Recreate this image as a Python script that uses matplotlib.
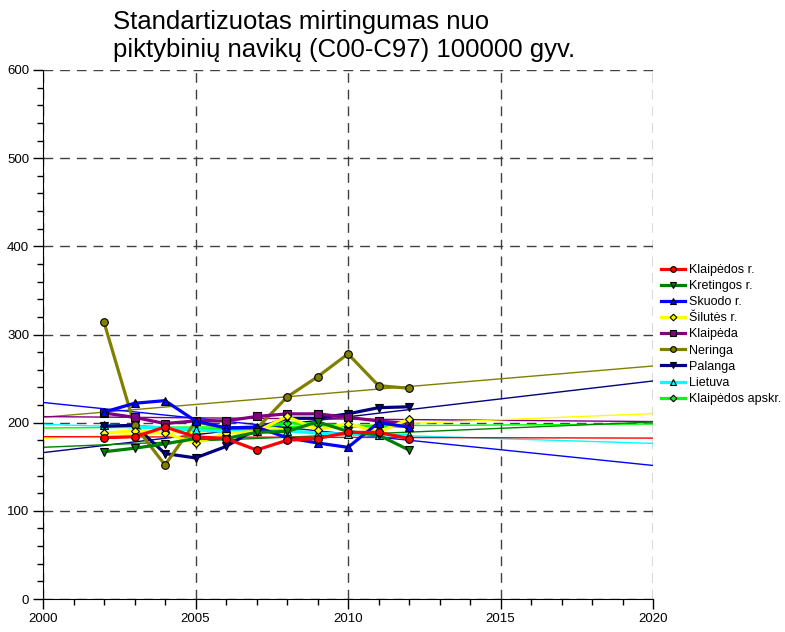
import matplotlib
matplotlib.use("Agg")
import matplotlib.pyplot as plt
from matplotlib.ticker import MultipleLocator
import numpy as np

plt.rcParams['font.family'] = ['Liberation Sans', 'DejaVu Sans']

# data
years = [2002, 2003, 2004, 2005, 2006, 2007, 2008, 2009, 2010, 2011, 2012]
names = ['Klaipėdos r.', 'Kretingos r.', 'Skuodo r.', 'Šilutės r.', 'Klaipėda',
         'Neringa', 'Palanga', 'Lietuva', 'Klaipėdos apskr.']
klaipedos_r = [183, 184, 195, 184, 182, 169, 180, 182, 189, 189, 182]
kretingos_r = [167, 171, 176, 182, 182, 189, 190, 201, 190, 186, 169]
skuodo_r = [212, 222, 225, 202, 194, 195, 183, 177, 172, 200, 195]
silutes_r = [188, 191, 188, 177, 188, 190, 207, 192, 199, 189, 204]
klaipeda = [211, 206, 199, 202, 202, 207, 210, 210, 206, 202, 199]
neringa = [314, 197, 152, 201, 194, 193, 229, 252, 278, 242, 239]
palanga = [196, 197, 165, 160, 173, 193, 205, 205, 210, 217, 218]
lietuva = [197, 195, 194, 192, 190, 190, 191, 188, 187, 186, 186]
apskr = [196, 196, 194, 192, 193, 194, 200, 198, 196, 196, 196]

series = [klaipedos_r, kretingos_r, skuodo_r, silutes_r, klaipeda,
          neringa, palanga, lietuva, apskr]
colors = ['#ff0000', '#008000', '#0000ff', '#ffff00', '#800080',
          '#808000', '#000080', '#00ffff', '#00ff00']
markers = ['o', 'v', '^', 'D', 's', 'o', 'v', '^', 'D']
msizes = [5.5, 6, 6, 4.5, 5.5, 5.5, 6, 6, 4.5]

fig = plt.figure(figsize=(7.85, 6.32), dpi=100)
ax = fig.add_axes([43/785, 33/632, 610/785, 529/632])

# linear trend lines 2000-2020
trend_x = np.array([2000, 2020])
n = len(series)
for i, (vals, c) in enumerate(zip(series, colors)):
    k, b = np.polyfit(years, vals, 1)
    ax.plot(trend_x, k*trend_x + b, color=c, lw=1, zorder=2 + (n - i)*0.01)

handles = []
for i, (vals, c, m, ms, name) in enumerate(zip(series, colors, markers, msizes, names)):
    h, = ax.plot(years, vals, color=c, lw=2.3, marker=m, markersize=ms,
                 markerfacecolor=c, markeredgecolor='black', markeredgewidth=0.8,
                 label=name, zorder=3 + (n - i)*0.1)
    handles.append(h)

ax.set_xlim(2000, 2020)
ax.set_ylim(0, 600)
ax.xaxis.set_major_locator(MultipleLocator(5))
ax.xaxis.set_minor_locator(MultipleLocator(1))
ax.yaxis.set_major_locator(MultipleLocator(100))
ax.yaxis.set_minor_locator(MultipleLocator(20))
ax.tick_params(which='major', direction='out', length=7, width=1, labelsize=9.5, pad=3)
ax.tick_params(which='minor', direction='out', length=4, width=1)
ax.grid(True, which='major', color='#404040', linestyle=(0, (7, 5)), lw=1, zorder=1)
ax.spines['top'].set_visible(False)
ax.spines['right'].set_visible(False)
ax.spines['left'].set_zorder(5)
ax.spines['bottom'].set_zorder(5)
ax.set_axisbelow(True)

fig.text(113/785, 1 - 10/632, 'Standartizuotas mirtingumas nuo\npiktybinių navikų (C00-C97) 100000 gyv.',
         ha='left', va='top', fontsize=18.5, linespacing=1.2)

fig.legend(handles=handles, loc='upper left', bbox_to_anchor=(656/785, 1 - 259/632),
           frameon=False, fontsize=9, handlelength=1.9, handletextpad=0.35,
           labelspacing=0.33, borderaxespad=0, markerscale=0.75)

fig.savefig('out.png', dpi=100)
